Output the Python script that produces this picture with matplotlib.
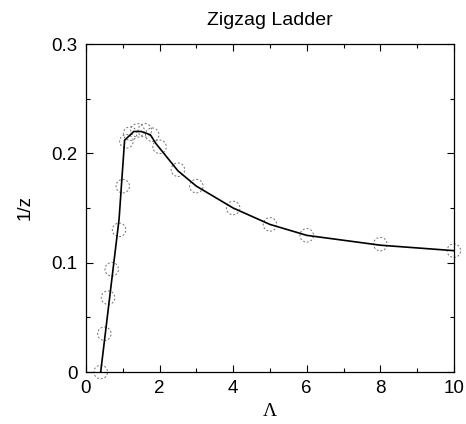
import numpy as np
import matplotlib
matplotlib.use("Agg")
import matplotlib.pyplot as plt
from matplotlib.ticker import MultipleLocator

# data
lam_pts = [0.4, 0.5, 0.6, 0.7, 0.9, 1.0, 1.1, 1.2, 1.4, 1.6, 1.8, 2.0, 2.5, 3.0, 4.0, 5.0, 6.0, 8.0, 10.0]
invz_pts = [0.0, 0.035, 0.068, 0.094, 0.130, 0.170, 0.211, 0.218, 0.221, 0.221, 0.217, 0.206, 0.185,
            0.170, 0.150, 0.135, 0.125, 0.117, 0.111]

lam_line = [0.4, 0.9, 1.05, 1.3, 1.5, 1.75, 1.9, 2.5, 3.0, 4.0, 5.0, 6.0, 8.0, 10.0]
invz_line = [0.0, 0.140, 0.212, 0.220, 0.220, 0.217, 0.209, 0.184, 0.170, 0.150, 0.135, 0.125, 0.116, 0.111]

plt.rcParams['font.family'] = ['Liberation Sans', 'DejaVu Sans']

fig = plt.figure(figsize=(4.66, 4.24), dpi=100)
ax = fig.add_axes([0.1845, 0.1226, 0.7895, 0.7736])

ax.plot(lam_line, invz_line, color='black', lw=1.2, zorder=3)
ax.scatter(lam_pts, invz_pts, s=95, facecolors='none', edgecolors='#707070',
           linewidths=0.7, linestyles=(0, (2, 2)), zorder=2, clip_on=False)

ax.set_xlim(0, 10)
ax.set_ylim(0, 0.3)
ax.xaxis.set_minor_locator(MultipleLocator(1))
ax.yaxis.set_minor_locator(MultipleLocator(0.05))
ax.set_xticks([0, 2, 4, 6, 8, 10])
ax.set_xticklabels(['0', '2', '4', '6', '8', '10'])
ax.set_yticks([0, 0.1, 0.2, 0.3])
ax.set_yticklabels(['0', '0.1', '0.2', '0.3'])
ax.tick_params(which='both', direction='in', top=True, right=True, labelsize=13.5, pad=6)
ax.tick_params(which='major', length=5, width=0.8)
ax.tick_params(which='minor', length=3, width=0.8)
for s in ax.spines.values():
    s.set_linewidth(0.9)

ax.set_title('Zigzag Ladder', fontsize=14, pad=14)
ax.set_ylabel('1/z', fontsize=13.5, labelpad=13)
ax.set_xlabel('Λ', fontsize=14, family=['Liberation Serif', 'DejaVu Serif'], labelpad=4)

fig.savefig('out.png', dpi=100)
